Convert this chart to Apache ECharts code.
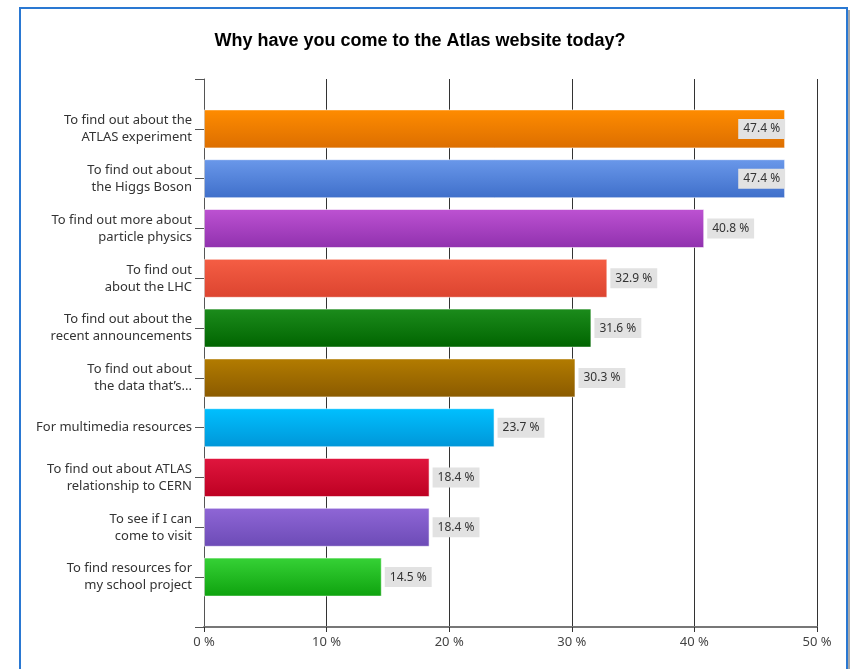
<!DOCTYPE html>
<html>
<head>
<meta charset="utf-8">
<script src="https://cdn.jsdelivr.net/npm/echarts@6/dist/echarts.min.js"></script>
<style>
html,body{margin:0;padding:0;background:#fff;}
#chart{width:850px;height:669px;}
</style>
</head>
<body>
<div id="chart"></div>
<script>
var titleText = 'Why have you come to the Atlas website today?';
var categories = [
  'To find out about the\nATLAS experiment',
  'To find out about\nthe Higgs Boson',
  'To find out more about\nparticle physics',
  'To find out\nabout the LHC',
  'To find out about the\nrecent announcements',
  'To find out about\nthe data that\u2019s...',
  'For multimedia resources',
  'To find out about ATLAS\nrelationship to CERN',
  'To see if I can\ncome to visit',
  'To find resources for\nmy school project'
];
var values = [47.4, 47.4, 40.8, 32.9, 31.6, 30.3, 23.7, 18.4, 18.4, 14.5];
var barColors = [
  ['#ff8c00', '#dc6e00'],
  ['#6a98ea', '#3f6fca'],
  ['#bd52d2', '#9031ae'],
  ['#f55e44', '#dc4430'],
  ['#1c8c1c', '#006400'],
  ['#b37c00', '#8a5a00'],
  ['#00c0ff', '#0096d8'],
  ['#e0163e', '#bd0022'],
  ['#8f66d6', '#6c4bb6'],
  ['#36d236', '#0ea20e']
];
var xTicks = [0, 10, 20, 30, 40, 50];

var FONT = 'Noto Sans';
var chart = echarts.init(document.getElementById('chart'), null, {renderer: 'canvas'});

var barData = values.map(function (v, i) {
  return {
    value: v,
    itemStyle: {
      color: new echarts.graphic.LinearGradient(0, 0, 0, 1, [
        {offset: 0, color: barColors[i][0]},
        {offset: 1, color: barColors[i][1]}
      ])
    },
    label: v > 45 ? {position: 'insideRight', distance: 0} : {position: 'right', distance: 3}
  };
});

var option = {
  backgroundColor: '#ffffff',
  animation: false,
  title: {
    text: titleText,
    left: 415,
    top: 27,
    textAlign: 'center',
    textStyle: {fontFamily: 'Liberation Sans', fontWeight: 'bold', fontSize: 18, color: '#000'}
  },
  graphic: [
    {type: 'rect', shape: {x: 20, y: 8, width: 827, height: 720}, style: {fill: 'none', stroke: '#2a78d2', lineWidth: 2}, z: 100},
    {type: 'rect', shape: {x: 848, y: 10, width: 2, height: 700}, style: {fill: '#a8a8a8'}, z: 100}
  ],
  grid: [
    {left: 204, right: 33, top: 79, bottom: 42},
    {left: 204, right: 33, top: 104, bottom: 67}
  ],
  xAxis: [
    {
      type: 'value', gridIndex: 0, min: 0, max: 50, interval: 10,
      axisLine: {show: true, lineStyle: {color: '#777', width: 2}},
      axisTick: {show: true, length: 5, lineStyle: {color: '#333'}},
      axisLabel: {
        formatter: function (v) { return v + ' %'; },
        fontFamily: FONT, fontSize: 13, color: '#444', margin: 9
      },
      splitLine: {show: true, lineStyle: {color: '#333', width: 1}}
    },
    {
      type: 'value', gridIndex: 1, min: 0, max: 50, interval: 10, show: false
    }
  ],
  yAxis: [
    {
      type: 'value', gridIndex: 0, min: 0, max: 1, interval: 1,
      axisLine: {show: true, lineStyle: {color: '#555', width: 1}},
      axisTick: {show: true, length: 9, lineStyle: {color: '#555'}},
      axisLabel: {show: false},
      splitLine: {show: false}
    },
    {
      type: 'category', gridIndex: 1, data: categories, inverse: true,
      axisLine: {show: false},
      axisTick: {show: true, alignWithLabel: true, length: 9, lineStyle: {color: '#555'}},
      axisLabel: {fontFamily: FONT, fontSize: 13, color: '#333', lineHeight: 17, margin: 12, align: 'right'}
    }
  ],
  series: [
    {
      type: 'bar', xAxisIndex: 1, yAxisIndex: 1,
      data: barData,
      barWidth: 39,
      itemStyle: {borderColor: 'rgba(255,255,255,0.55)', borderWidth: 1},
      label: {
        show: true,
        formatter: function (p) { return p.value.toFixed(1) + ' %'; },
        fontFamily: FONT, fontSize: 12, color: '#333',
        backgroundColor: '#e2e2e2', padding: [4, 5]
      }
    }
  ]
};
chart.setOption(option);
</script>
</body>
</html>
